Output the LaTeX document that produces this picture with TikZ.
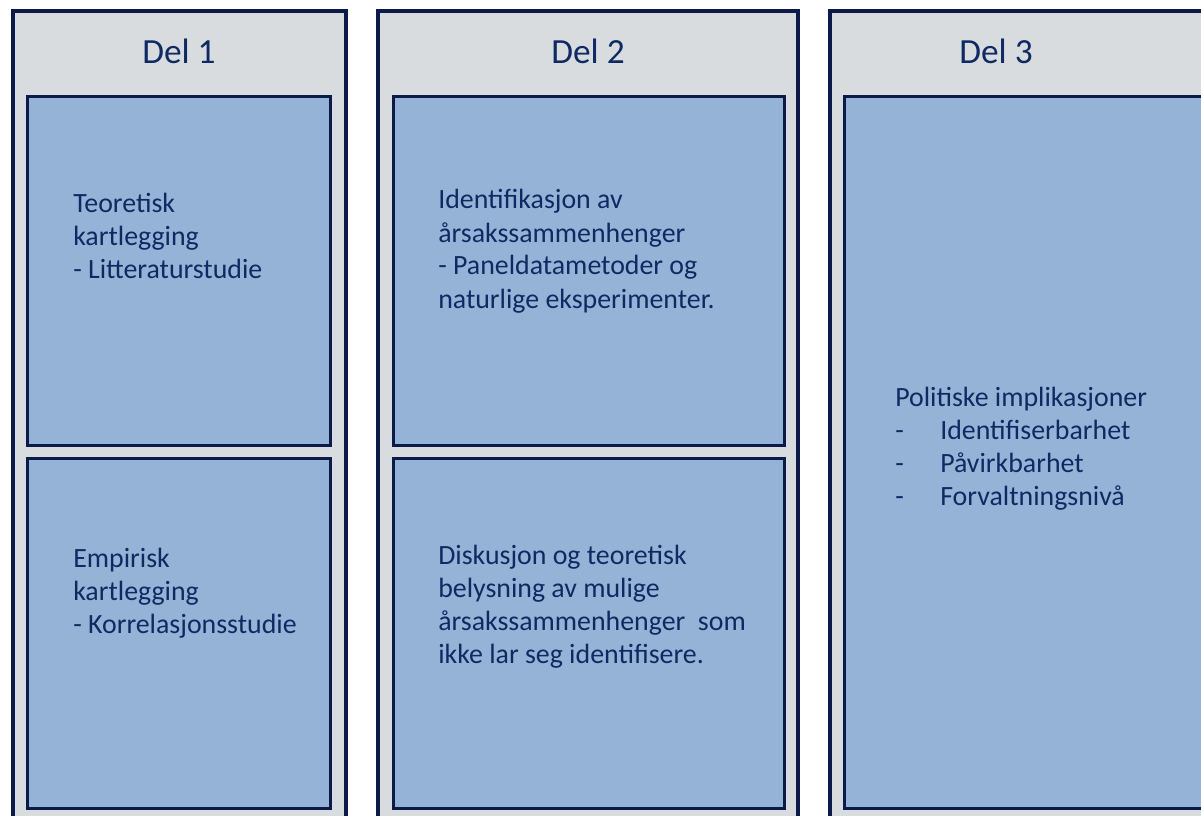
\documentclass[tikz,border=0pt]{standalone}
\usepackage{fontspec}
\setmainfont{Carlito}
\definecolor{navy}{HTML}{0B1A48}
\definecolor{panelgray}{HTML}{D8DCDE}
\definecolor{boxblue}{HTML}{95B3D7}
\definecolor{textblue}{HTML}{0F2A63}
\newcommand{\listdash}{\makebox[33.75pt][l]{-}}
\begin{document}
\begin{tikzpicture}[x=0.75pt, y=-0.75pt,
  panel/.style={draw=navy, fill=panelgray, line width=3pt},
  box/.style={draw=navy, fill=boxblue, line width=2.4pt},
  title/.style={text=textblue, font=\fontsize{26.5}{32}\selectfont, anchor=base, inner sep=0pt},
  body/.style={text=textblue, font=\fontsize{20.9}{24.75}\selectfont, align=left, anchor=base west, inner sep=0pt}]
\clip (0,0) rectangle (1201,816);
\fill[white] (0,0) rectangle (1201,816);
% the three columns
\draw[panel] (13,11) rectangle (346,830);
\draw[panel] (378,11) rectangle (798,830);
\draw[panel] (830,11) rectangle (1230,830);
% boxes
\draw[box] (27.5,96.5) rectangle (330.5,445.5);
\draw[box] (27.5,458.5) rectangle (330.5,808.5);
\draw[box] (393.5,96.5) rectangle (784.5,445.5);
\draw[box] (393.5,458.5) rectangle (784.5,808.5);
\draw[box] (844.5,96.5) rectangle (1230,808.5);
% titles
\node[title] (del1) at (179,64) {Del 1};
\node[title] (del2) at (588,64) {Del 2};
\node[title] (del3) at (996,64) {Del 3};
% texts (placed at the baseline of the last line)
\node[body] (teori) at (73,279) {Teoretisk\\kartlegging\\- Litteraturstudie};
\node[body] (empiri) at (73,633) {Empirisk\\kartlegging\\- Korrelasjonsstudie};
\node[body] (aarsak) at (438,308) {Identifikasjon av\\årsakssammenhenger\\- Paneldatametoder og\\naturlige eksperimenter.};
\node[body] (diskusjon) at (438,663) {Diskusjon og teoretisk\\belysning av mulige\\årsakssammenhenger\ \ som\\ikke lar seg identifisere.};
\node[body] (politikk) at (895,505) {Politiske implikasjoner\\\listdash Identifiserbarhet\\\listdash Påvirkbarhet\\\listdash Forvaltningsnivå};
\end{tikzpicture}
\end{document}
